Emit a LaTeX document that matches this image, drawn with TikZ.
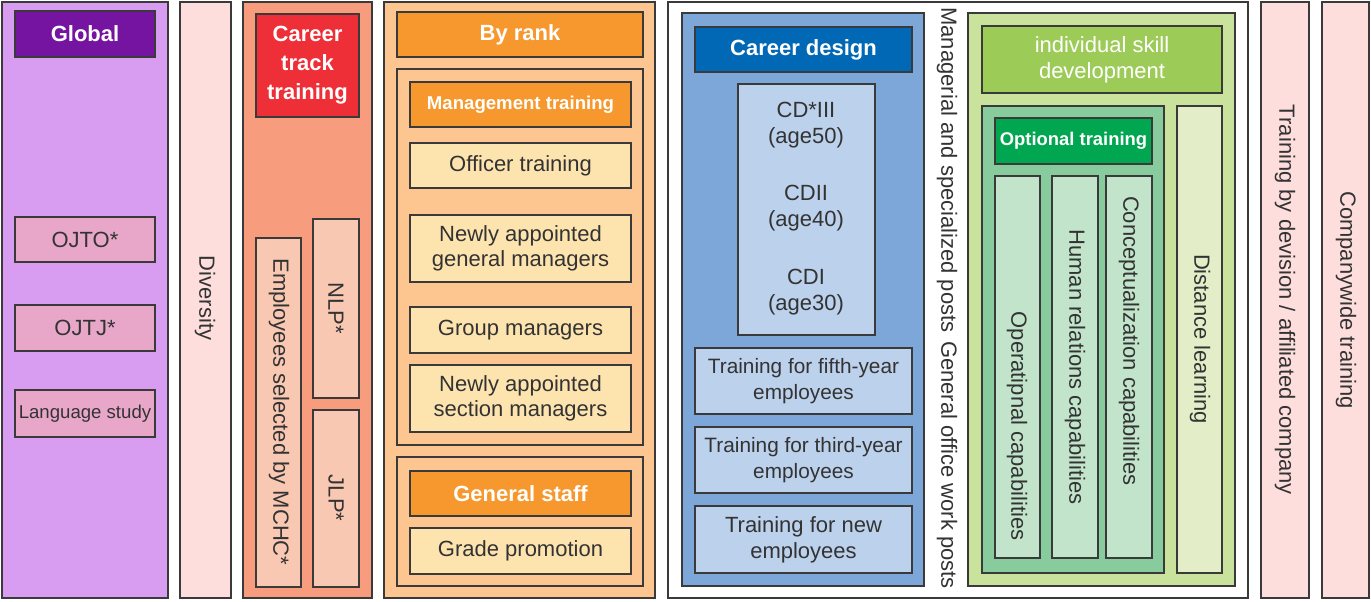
\documentclass[tikz,border=0pt]{standalone}
\usepackage{fontspec}
\setmainfont{Liberation Sans}
\definecolor{cglobal}{HTML}{D89CF0}
\definecolor{cglobalh}{HTML}{7414A0}
\definecolor{cojt}{HTML}{E8A7C9}
\definecolor{cpink}{HTML}{FDDEDD}
\definecolor{ccareer}{HTML}{F89C7E}
\definecolor{cred}{HTML}{EE2F37}
\definecolor{cpeach}{HTML}{F9C8B2}
\definecolor{crank}{HTML}{FDC58F}
\definecolor{corange}{HTML}{F7982F}
\definecolor{cyellow}{HTML}{FDE4AF}
\definecolor{cblue}{HTML}{7CA7D8}
\definecolor{cblueh}{HTML}{0068B4}
\definecolor{clblue}{HTML}{BCD1EC}
\definecolor{cgreen}{HTML}{C9E39C}
\definecolor{cgreenh}{HTML}{9DCB57}
\definecolor{cmgreen}{HTML}{88CB9C}
\definecolor{cgreenopt}{HTML}{00A650}
\definecolor{clgreen}{HTML}{C1E4CB}
\definecolor{cdist}{HTML}{E3EEC9}
\definecolor{cline}{HTML}{3A3A3A}
\definecolor{ctext}{HTML}{333333}
\newcommand\fnorm{\fontsize{11}{12.5}\selectfont}
\newcommand\fsmall{\fontsize{9.3}{11}\selectfont}
\newcommand\bx[7]{%
  \pgfmathsetmacro\bw{(#5-#3)*0.5}%
  \pgfmathsetmacro\bh{(#6-#4)*0.5}%
  \node[#2, anchor=north west, minimum width=\bw pt, minimum height=\bh pt] (#1) at (#3,#4) {#7};}
\tikzset{
  box/.style={draw=cline, line width=0.9pt, inner sep=0pt, outer sep=0pt, font=\fnorm, text=ctext, align=center},
  hdr/.style={box, text=white, font=\fnorm\bfseries},
  vtext/.style={rotate=-90, font=\fnorm, text=ctext, inner sep=0pt}
}
\begin{document}
\begin{tikzpicture}[x=0.5pt,y=-0.5pt]
\useasboundingbox[fill=white] (0,0) rectangle (1371,601);
% Global
\bx{glob}{box, fill=cglobal}{2}{2}{168}{598}{}
\bx{globh}{hdr, fill=cglobalh}{15}{11}{155}{57}{Global}
\bx{ojto}{box, fill=cojt}{15}{217}{155}{262}{OJTO*}
\bx{ojtj}{box, fill=cojt}{15}{305}{155}{351}{OJTJ*}
\bx{lang}{box, fill=cojt, font=\fsmall}{15}{390}{155}{437}{Language study}
% Diversity
\bx{div}{box, fill=cpink}{180}{2}{231}{598}{}
\node[vtext] (divt) at (205,298) {Diversity};
% Career track
\bx{ctc}{box, fill=ccareer}{243}{2}{372}{598}{}
\bx{cth}{hdr, fill=cred, font=\fontsize{11}{14.5}\selectfont\bfseries}{256}{14}{359}{117}{Career\\track\\training}
\bx{emp}{box, fill=cpeach}{256}{238}{301}{587}{}
\node[vtext] (empt) at (279,412) {Employees selected by MCHC*};
\bx{nlp}{box, fill=cpeach}{313}{219}{359}{398}{}
\node[vtext] (nlpt) at (336,308) {NLP*};
\bx{jlp}{box, fill=cpeach}{313}{410}{359}{587}{}
\node[vtext] (jlpt) at (336,498) {JLP*};
% By rank
\bx{rank}{box, fill=crank}{384}{2}{655}{598}{}
\bx{rankh}{hdr, fill=corange}{397}{12}{643}{57}{By rank}
\bx{mgmt}{box, fill=crank}{397}{69}{643}{445}{}
\bx{mgmth}{hdr, fill=corange, font=\fsmall\bfseries}{410}{82}{631}{127}{Management training}
\bx{off}{box, fill=cyellow}{410}{143}{631}{188}{Officer training}
\bx{nagm}{box, fill=cyellow}{410}{215}{631}{282}{Newly appointed\\general managers}
\bx{grp}{box, fill=cyellow}{410}{307}{631}{353}{Group managers}
\bx{nasm}{box, fill=cyellow}{410}{365}{631}{432}{Newly appointed\\section managers}
\bx{gs}{box, fill=crank}{397}{457}{643}{586}{}
\bx{gsh}{hdr, fill=corange}{410}{471}{631}{516}{General staff}
\bx{grade}{box, fill=cyellow}{410}{528}{631}{574}{Grade promotion}
% White frame
\bx{frame}{box, fill=white}{668}{2}{1248}{598}{}
% Career design
\bx{cd}{box, fill=cblue}{682}{13}{924}{586}{}
\bx{cdh}{hdr, fill=cblueh}{695}{27}{912}{72}{Career design}
\bx{cdbox}{box, fill=clblue}{738}{84}{875}{335}{}
\node[font=\fontsize{11}{13}\selectfont, text=ctext, align=center] (cd3) at (806,125) {CD*III\\(age50)};
\node[font=\fontsize{11}{13}\selectfont, text=ctext, align=center] (cd2) at (806,208) {CDII\\(age40)};
\node[font=\fontsize{11}{13}\selectfont, text=ctext, align=center] (cd1) at (806,292) {CDI\\(age30)};
\bx{fifth}{box, fill=clblue, font=\fontsize{10.4}{13}\selectfont}{695}{348}{912}{414}{Training for fifth-year\\employees}
\bx{third}{box, fill=clblue, font=\fontsize{10.4}{13}\selectfont}{695}{427}{912}{493}{Training for third-year\\employees}
\bx{newe}{box, fill=clblue, font=\fontsize{11}{13}\selectfont}{695}{506}{912}{573}{Training for new\\employees}
\node[vtext] (mgrt) at (947,170) {Managerial and specialized posts};
\node[vtext] (gent) at (947,465) {General office work posts};
% Individual skill
\bx{isd}{box, fill=cgreen}{968}{13}{1235}{586}{}
\bx{isdh}{box, fill=cgreenh, text=white, font=\fontsize{11}{13}\selectfont}{982}{26}{1222}{93}{individual skill\\development}
\bx{opt}{box, fill=cmgreen}{982}{106}{1164}{573}{}
\bx{opth}{hdr, fill=cgreenopt, font=\fontsize{9.2}{11}\selectfont\bfseries}{995}{118}{1152}{164}{Optional training}
\bx{oper}{box, fill=clgreen}{995}{176}{1040}{558}{}
\node[vtext] (opert) at (1017,426) {Operatipnal capabilities};
\bx{hum}{box, fill=clgreen}{1052}{176}{1098}{558}{}
\node[vtext] (humt) at (1075,367) {Human relations capabilities};
\bx{conc}{box, fill=clgreen}{1106}{176}{1152}{558}{}
\node[vtext] (conct) at (1129,341) {Conceptualization capabilities};
\bx{dist}{box, fill=cdist}{1177}{106}{1222}{573}{}
\node[vtext] (distt) at (1200,339) {Distance learning};
% Right columns
\bx{div2}{box, fill=cpink}{1261}{2}{1309}{598}{}
\node[vtext] (div2t) at (1285,300) {Training by devision / affiliated company};
\bx{comp}{box, fill=cpink}{1322}{2}{1369}{598}{}
\node[vtext] (compt) at (1346,300) {Companywide training};
\end{tikzpicture}
\end{document}
